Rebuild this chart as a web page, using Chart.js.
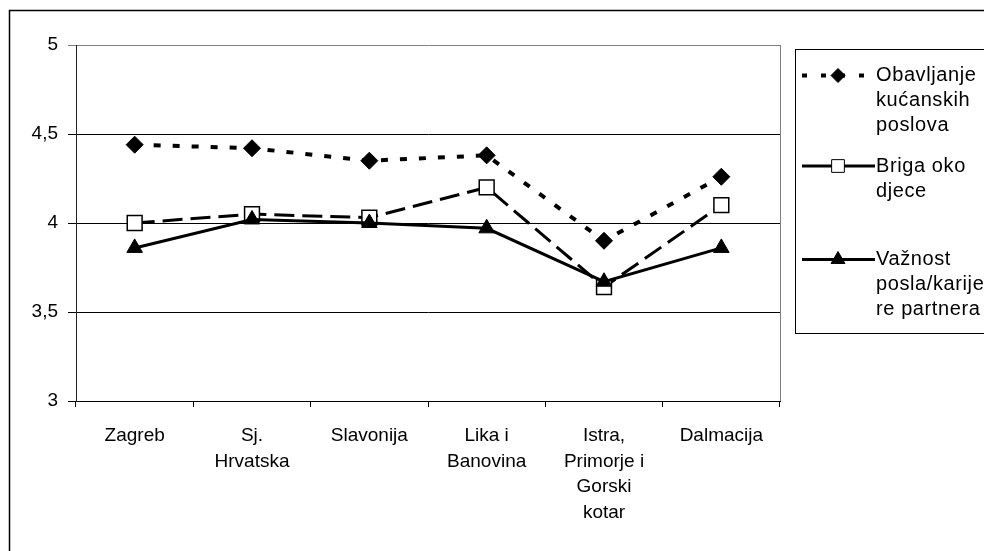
<!DOCTYPE html>
<html lang="hr">
<head>
    <meta charset="UTF-8">
    <title>Regije</title>
    <script src="https://cdn.jsdelivr.net/npm/chart.js"></script>
    <style>
        html, body { margin: 0; padding: 0; background: #fff; }
    </style>
</head>
<body>
    <canvas id="myChart" width="984" height="551"></canvas>

    <script>
        // data
        const regions = [['Zagreb'], ['Sj.', 'Hrvatska'], ['Slavonija'], ['Lika i', 'Banovina'], ['Istra,', 'Primorje i', 'Gorski', 'kotar'], ['Dalmacija']];
        const seriesNames = ['Obavljanje kućanskih poslova', 'Briga oko djece', 'Važnost posla/karijere partnera'];
        const legendText = [['Obavljanje', 'kućanskih', 'poslova'], ['Briga oko', 'djece'], ['Važnost', 'posla/karije', 're partnera']];
        const housework = [4.44, 4.42, 4.35, 4.38, 3.90, 4.26];
        const childcare = [4.00, 4.05, 4.03, 4.20, 3.64, 4.10];
        const partnerCareer = [3.86, 4.02, 4.00, 3.97, 3.67, 3.86];
        const yTicks = [3, 3.5, 4, 4.5, 5];

        const FONT = '"Liberation Sans", Arial, sans-serif';
        Chart.defaults.font.family = FONT;
        Chart.defaults.font.size = 19;
        Chart.defaults.color = '#000';

        // outer frame, plot border and the boxed legend on the right
        const framePlugin = {
            id: 'frame',
            beforeDraw(chart) {
                const ctx = chart.ctx;
                ctx.save();
                ctx.fillStyle = '#fff';
                ctx.fillRect(0, 0, chart.width, chart.height);
                ctx.strokeStyle = '#000';
                ctx.lineWidth = 1.5;
                ctx.strokeRect(9.5, 10.5, 1100, 700);
                ctx.restore();
            },
            beforeDatasetsDraw(chart) {
                const ctx = chart.ctx;
                const a = chart.chartArea;
                ctx.save();
                ctx.strokeStyle = '#808080';
                ctx.lineWidth = 1;
                ctx.beginPath();
                ctx.moveTo(Math.round(a.right) + 0.5, a.top);
                ctx.lineTo(Math.round(a.right) + 0.5, a.bottom);
                ctx.stroke();
                ctx.restore();
            },
            afterDraw(chart) {
                const ctx = chart.ctx;
                const entryY = [75.5, 166, 259.5];
                ctx.save();
                ctx.strokeStyle = '#000';
                ctx.lineWidth = 1;
                ctx.strokeRect(795.5, 49.5, 300, 284);

                chart.data.datasets.forEach((ds, i) => {
                    const y = entryY[i];
                    ctx.save();
                    ctx.strokeStyle = ds.borderColor;
                    ctx.lineWidth = ds.borderWidth;
                    ctx.setLineDash(ds.legendDash || []);
                    ctx.beginPath();
                    ctx.moveTo(802, y);
                    ctx.lineTo(875, y);
                    ctx.stroke();
                    ctx.restore();

                    ctx.save();
                    ctx.fillStyle = ds.pointBackgroundColor;
                    ctx.strokeStyle = ds.pointBorderColor;
                    Chart.helpers.drawPoint(ctx, {
                        pointStyle: ds.pointStyle,
                        radius: ds.legendRadius,
                        borderWidth: ds.pointBorderWidth,
                        rotation: 0
                    }, 838, y);
                    ctx.restore();

                    ctx.fillStyle = '#000';
                    ctx.font = '20px ' + FONT;
                    ctx.letterSpacing = '0.6px';
                    ctx.textBaseline = 'middle';
                    ctx.textAlign = 'left';
                    legendText[i].forEach((t, k) => ctx.fillText(t, 876, y + k * 25));
                });
                ctx.restore();
            }
        };

        const ctx = document.getElementById('myChart').getContext('2d');

        new Chart(ctx, {
            type: 'line',
            data: {
                labels: regions,
                datasets: [{
                    label: seriesNames[0],
                    data: housework,
                    order: 3,
                    borderColor: '#000',
                    borderWidth: 4,
                    borderDash: [7, 12],
                    legendDash: [5, 14],
                    pointStyle: 'rectRot',
                    pointRadius: 8.5,
                    legendRadius: 7,
                    pointBackgroundColor: '#000',
                    pointBorderColor: '#000',
                    pointBorderWidth: 1
                }, {
                    label: seriesNames[1],
                    data: childcare,
                    order: 2,
                    borderColor: '#000',
                    borderWidth: 3,
                    borderDash: [20, 8],
                    legendDash: [],
                    pointStyle: 'rect',
                    pointRadius: 10.5,
                    legendRadius: 9,
                    pointBackgroundColor: '#fff',
                    pointBorderColor: '#000',
                    pointBorderWidth: 1.5
                }, {
                    label: seriesNames[2],
                    data: partnerCareer,
                    order: 1,
                    borderColor: '#000',
                    borderWidth: 3,
                    legendDash: [],
                    pointStyle: 'triangle',
                    pointRadius: 9,
                    legendRadius: 8,
                    pointBackgroundColor: '#000',
                    pointBorderColor: '#000',
                    pointBorderWidth: 1
                }]
            },
            options: {
                responsive: false,
                animation: false,
                devicePixelRatio: 1,
                layout: { padding: { left: 0, top: 45, right: 204, bottom: 0 } },
                elements: { line: { tension: 0 } },
                plugins: {
                    legend: { display: false },
                    tooltip: { enabled: false }
                },
                scales: {
                    x: {
                        offset: true,
                        afterFit: s => { s.height = 150; },
                        grid: {
                            offset: true,
                            drawOnChartArea: false,
                            tickLength: 6,
                            color: '#000'
                        },
                        border: { color: '#000', width: 1 },
                        ticks: {
                            autoSkip: false,
                            maxRotation: 0,
                            padding: 16,
                            font: { size: 19, lineHeight: 1.35 }
                        }
                    },
                    y: {
                        min: 3,
                        max: 5,
                        afterFit: s => { s.width = 76; },
                        afterBuildTicks: s => { s.ticks = yTicks.map(v => ({ value: v })); },
                        grid: {
                            tickLength: 8,
                            color: c => (c.tick && c.tick.value === 5) ? '#808080' : '#000'
                        },
                        border: { color: '#222', width: 1 },
                        ticks: {
                            padding: 10,
                            callback: v => String(v).replace('.', ',')
                        }
                    }
                }
            },
            plugins: [framePlugin]
        });
    </script>
</body>
</html>
